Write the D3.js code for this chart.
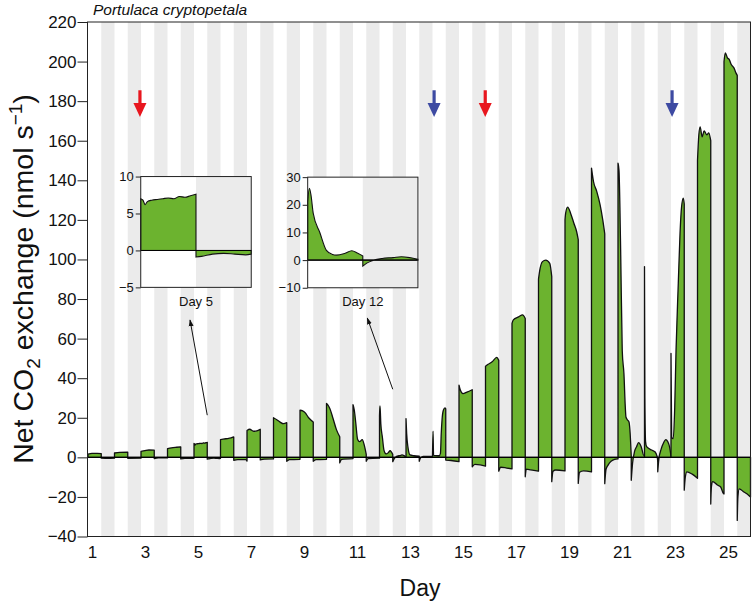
<!DOCTYPE html>
<html><head><meta charset="utf-8">
<script src="https://cdn.jsdelivr.net/npm/d3@7"></script>
<style>body{margin:0;background:#fff} svg{display:block;font-family:"Liberation Sans",Arial,Helvetica,sans-serif}</style>
</head><body><svg id="c" width="752" height="602"></svg>
<script>
// ---- data ----
const dayTicks = [1,3,5,7,9,11,13,15,17,19,21,23,25];
const yTicks = [-40,-20,0,20,40,60,80,100,120,140,160,180,200,220];
const days = [1,2,3,4,5,6,7,8,9,10,11,12,13,14,15,16,17,18,19,20,21,22,23,24,25];
// light-period samples per day: [fraction of light period, value]
const lightData = [
  [[0,1.6],[0.3,2],[0.7,2],[1,1.9]],
  [[0,2.2],[0.4,2.5],[1,2.6]],
  [[0,3],[0.3,3.4],[0.6,3.7],[1,3.6]],
  [[0,4.4],[0.3,4.8],[0.7,5.1],[1,5.3]],
  [[0,7],[0.04,6.8],[0.08,6.2],[0.12,6.6],[0.2,6.8],[0.3,6.9],[0.4,7.0],[0.5,7.1],[0.6,7.0],[0.7,7.3],[0.8,7.2],[0.9,7.4],[1,7.6]],
  [[0,9],[0.4,9.4],[0.8,9.8],[1,10.3]],
  [[0,13.6],[0.2,14.2],[0.5,13.2],[0.8,13.5],[1,14.2]],
  [[0,20],[0.25,19],[0.5,17.8],[0.75,17],[1,17.5]],
  [[0,23.8],[0.2,23.5],[0.4,22.5],[0.6,20.5],[0.8,19],[1,17.8]],
  [[0,27.2],[0.1,26.5],[0.25,24.7],[0.5,19.5],[0.75,14],[1,10.4]],
  [[0,26.6],[0.1,23.8],[0.2,18],[0.35,9],[0.5,7.9],[0.7,9],[0.85,6.2],[1,1.5]],
  [[0,21],[0.03,26],[0.06,23.5],[0.1,17],[0.22,10],[0.34,3.5],[0.45,2],[0.52,1.8],[0.67,2.4],[0.8,3.4],[0.9,2.6],[1,1.5]],
  [[0,19.6],[0.05,12],[0.15,5],[0.3,1.2],[0.6,0.8],[1,0.6]],
  [[0,0.8],[0.04,13.3],[0.08,1],[0.5,0.8],[0.6,2],[0.66,12],[0.72,19],[0.82,23.8],[0.94,25],[1,24.5]],
  [[0,36.5],[0.1,34],[0.3,32.2],[0.6,33],[1,34.2]],
  [[0,46],[0.2,47],[0.5,48.3],[0.85,50.5],[1,49]],
  [[0,67.7],[0.1,69.5],[0.5,71],[0.8,72],[1,70.2]],
  [[0,90],[0.1,94.7],[0.3,98.9],[0.55,99.7],[0.85,98],[1,91.3]],
  [[0,120],[0.05,123.4],[0.2,126.4],[0.42,123.4],[0.67,118.3],[0.88,114],[1,110]],
  [[0,146.2],[0.15,139.4],[0.4,134.3],[0.65,127.6],[0.85,120],[1,113]],
  [[0,148.7],[0.075,145],[0.2,104.8],[0.32,54],[0.45,42],[0.55,25.5],[0.6,20.4],[0.7,19],[0.83,17.9],[0.9,13.8],[0.98,3.7],[1,0.5]],
  [[0,96.4],[0.03,30],[0.08,8],[0.16,5.4],[0.54,3.7],[0.79,2.8],[0.96,0.3],[1,-2]],
  [[0,52.5],[0.05,10],[0.17,9.5],[0.28,25],[0.38,54],[0.55,88],[0.68,113],[0.8,126.7],[0.93,131],[1,128]],
  [[0,150],[0.1,163],[0.2,167],[0.35,162],[0.5,165],[0.7,163],[0.85,164],[1,160]],
  [[0,200],[0.1,204.4],[0.25,202],[0.4,201],[0.55,198.5],[0.75,196.8],[0.9,194.3],[1,193]]
];
// dark-period samples per day: [fraction of dark period, value]
const darkData = [
  [[0,-0.4],[0.5,-0.5],[1,-0.4]],
  [[0,-0.5],[1,-0.4]],
  [[0,-0.6],[0.3,-0.3],[1,-0.3]],
  [[0,-0.8],[0.3,-0.5],[1,-0.5]],
  [[0,-0.9],[0.1,-0.8],[0.3,-0.5],[0.5,-0.4],[0.7,-0.5],[0.9,-0.6],[1,-0.5]],
  [[0,-1.5],[0.3,-1.2],[0.9,-1.2],[1,-1.9]],
  [[0,-1.3],[0.3,-0.9],[1,-0.8]],
  [[0,-2],[0.2,-1.2],[1,-1]],
  [[0,-2],[0.2,-1.2],[1,-1]],
  [[0,-2.8],[0.15,-1],[1,-0.6]],
  [[0,-2],[0.15,-0.6],[1,-0.4]],
  [[0,-2.2],[0.08,-1],[0.2,0],[0.35,0.6],[0.55,0.9],[0.7,1.2],[0.85,0.9],[1,0.3]],
  [[0,-2],[0.1,-0.3],[0.3,0.5],[1,0.5]],
  [[0,-1.4],[0.4,-1.6],[1,-2.2]],
  [[0,-4.8],[0.2,-3.6],[0.6,-3.8],[1,-4.4]],
  [[0,-7],[0.15,-5],[0.6,-5.4],[1,-5.8]],
  [[0,-9.8],[0.08,-6],[0.4,-6.3],[1,-7]],
  [[0,-12.3],[0.1,-7],[0.3,-6.4],[1,-6.8]],
  [[0,-13.2],[0.1,-7.5],[0.4,-6.8],[1,-7.3]],
  [[0,-13.3],[0.1,-6],[0.25,-3.9],[0.75,-1],[1,-0.8]],
  [[0,-11.6],[0.1,-3],[0.25,3],[0.4,5.4],[0.55,7.4],[0.75,5.4],[0.95,1],[1,1]],
  [[0,-7.3],[0.08,-1],[0.25,4],[0.45,7.5],[0.6,9],[0.75,8],[0.9,5],[1,0.5]],
  [[0,-16.6],[0.08,-10],[0.2,-7.3],[0.6,-8.5],[1,-10.6]],
  [[0,-23.6],[0.05,-15],[0.15,-12.3],[0.5,-14],[0.75,-15],[0.95,-18.2],[1,-18.5]],
  [[0,-31.9],[0.05,-20],[0.15,-15.9],[0.5,-17.5],[0.75,-18.5],[1,-20]]
];
const redArrowDays = [2.96, 15.99];
const blueArrowDays = [14.06, 23.04];
const inset5Ticks = [-5,0,5,10];
const inset12Ticks = [-10,0,10,20,30];

// ---- layout ----
const svg = d3.select("#c");
const L = 88, R = 750.5, T = 22, B = 536.5;
const x = d3.scaleLinear().domain([1,26]).range([L,R]);
const y = d3.scaleLinear().domain([-40,220]).range([B,T]);
const GREEN = "#6cb32f", GRAY = "#ebebeb";

function segments(i){
  const d = days[i];
  return [
    lightData[i].map(p=>({t:d+p[0]*0.5, v:p[1]})),
    darkData[i].map(p=>({t:d+0.5+p[0]*0.5, v:p[1]}))
  ];
}

// night stripes
svg.append("g").selectAll("rect").data(days).join("rect")
  .attr("x", d=>x(d+0.5)).attr("width", d=>x(d+1)-x(d+0.5))
  .attr("y", T).attr("height", B-T).attr("fill", GRAY);

// data
const area = d3.area().x(p=>x(p.t)).y0(y(0)).y1(p=>y(p.v)).curve(d3.curveMonotoneX);
const gData = svg.append("g");
days.forEach((d,i)=>{
  segments(i).forEach(seg=>{
    gData.append("path").attr("d", area(seg)).attr("fill", GREEN)
      .attr("stroke","#111").attr("stroke-width",1.3).attr("stroke-linejoin","round");
  });
});
svg.append("line").attr("x1",L).attr("x2",R).attr("y1",y(0)).attr("y2",y(0))
  .attr("stroke","#000").attr("stroke-width",1.1);

// frame
svg.append("rect").attr("x",L-0.5).attr("y",T).attr("width",R-L+0.5).attr("height",B-T)
  .attr("fill","none").attr("stroke","#222").attr("stroke-width",1);

// axes
const ya = svg.append("g").attr("transform",`translate(${L-0.5},0)`)
  .call(d3.axisLeft(y).tickValues(yTicks).tickSize(10).tickPadding(1));
ya.select(".domain").remove();
ya.selectAll("text").attr("font-size",17).attr("fill","#111");
ya.selectAll("line").attr("stroke","#222");

const xa = svg.append("g").attr("transform",`translate(4,${B})`)
  .call(d3.axisBottom(x).tickValues(dayTicks).tickSize(0).tickPadding(9.5));
xa.select(".domain").remove();
xa.selectAll("text").attr("font-size",17).attr("fill","#111");

svg.append("text").attr("x",420).attr("y",596).attr("text-anchor","middle")
  .attr("font-size",23).attr("fill","#111").text("Day");

const yt = svg.append("text").attr("transform","translate(33,279) rotate(-90)")
  .attr("text-anchor","middle").attr("font-size",28.5).attr("fill","#111");
yt.append("tspan").text("Net CO");
yt.append("tspan").attr("font-size",19).attr("dy",7).text("2");
yt.append("tspan").attr("dy",-7).text(" exchange (nmol s");
yt.append("tspan").attr("font-size",19).attr("dy",-11).text("\u22121");
yt.append("tspan").attr("dy",11).text(")");

svg.append("text").attr("x",93).attr("y",15).attr("font-style","italic")
  .attr("font-size",15.5).attr("fill","#111").text("Portulaca cryptopetala");

// treatment arrows
function arrow(t, color){
  const cx = x(t), y0 = y(185.5), y1 = y(172);
  const g = svg.append("g").attr("fill",color);
  g.append("rect").attr("x",cx-1.6).attr("y",y0).attr("width",3.2).attr("height",(y1-y0)*0.5+1);
  g.append("path").attr("d",`M${cx-6.5},${y0+(y1-y0)*0.48}L${cx+6.5},${y0+(y1-y0)*0.48}L${cx},${y1}Z`);
}
redArrowDays.forEach(t=>arrow(t,"#e8161e"));
blueArrowDays.forEach(t=>arrow(t,"#3d4aa2"));

// insets
function inset(dayIdx, box, yDom, ticks, label){
  const d = days[dayIdx];
  const ix = d3.scaleLinear().domain([d,d+1]).range([x(box[0]), x(box[1])]);
  const iy = d3.scaleLinear().domain(yDom).range([y(box[3]), y(box[2])]);
  const g = svg.append("g");
  const x0 = ix.range()[0], x1 = ix.range()[1], yTop = iy.range()[1], yBot = iy.range()[0];
  g.append("rect").attr("x",x0).attr("y",yTop).attr("width",x1-x0).attr("height",yBot-yTop).attr("fill","#fff");
  g.append("rect").attr("x",ix(d+0.5)).attr("y",yTop).attr("width",x1-ix(d+0.5)).attr("height",yBot-yTop).attr("fill",GRAY);
  const ia = d3.area().x(p=>ix(p.t)).y0(iy(0)).y1(p=>iy(p.v)).curve(d3.curveMonotoneX);
  segments(dayIdx).forEach(seg=>{
    g.append("path").attr("d",ia(seg)).attr("fill",GREEN).attr("stroke","#111").attr("stroke-width",1.1);
  });
  g.append("line").attr("x1",x0).attr("x2",x1).attr("y1",iy(0)).attr("y2",iy(0)).attr("stroke","#000");
  g.append("rect").attr("x",x0).attr("y",yTop).attr("width",x1-x0).attr("height",yBot-yTop)
    .attr("fill","none").attr("stroke","#222");
  const a = g.append("g").attr("transform",`translate(${x0},0)`)
    .call(d3.axisLeft(iy).tickValues(ticks).tickSize(5).tickPadding(2));
  a.select(".domain").remove();
  a.selectAll("text").attr("font-size",13).attr("fill","#111");
  a.selectAll("line").attr("stroke","#222");
  g.append("text").attr("x",(x0+x1)/2).attr("y",yBot+18.5).attr("text-anchor","middle")
    .attr("font-size",13).attr("fill","#111").text(label);
}
inset(4, [2.99, 7.16, 141.9, 85.9], [-5,10], inset5Ticks, "Day 5");
inset(11, [9.29, 13.45, 141.6, 85.7], [-10,30], inset12Ticks, "Day 12");

// pointer arrows to insets
const pointers = [
  {from:[5.50,21.3], to:[4.85,69.4]},
  {from:[12.50,34.4], to:[11.54,70.4]}
];
svg.append("defs").append("marker").attr("id","ah").attr("viewBox","0 0 10 10")
  .attr("refX",9).attr("refY",5).attr("markerWidth",7).attr("markerHeight",7)
  .attr("orient","auto").attr("markerUnits","userSpaceOnUse")
  .append("path").attr("d","M0,1.5L10,5L0,8.5Z").attr("fill","#111");
pointers.forEach(p=>{
  svg.append("line").attr("x1",x(p.from[0])).attr("y1",y(p.from[1]))
    .attr("x2",x(p.to[0])).attr("y2",y(p.to[1]))
    .attr("stroke","#111").attr("stroke-width",1).attr("marker-end","url(#ah)");
});
</script></body></html>
